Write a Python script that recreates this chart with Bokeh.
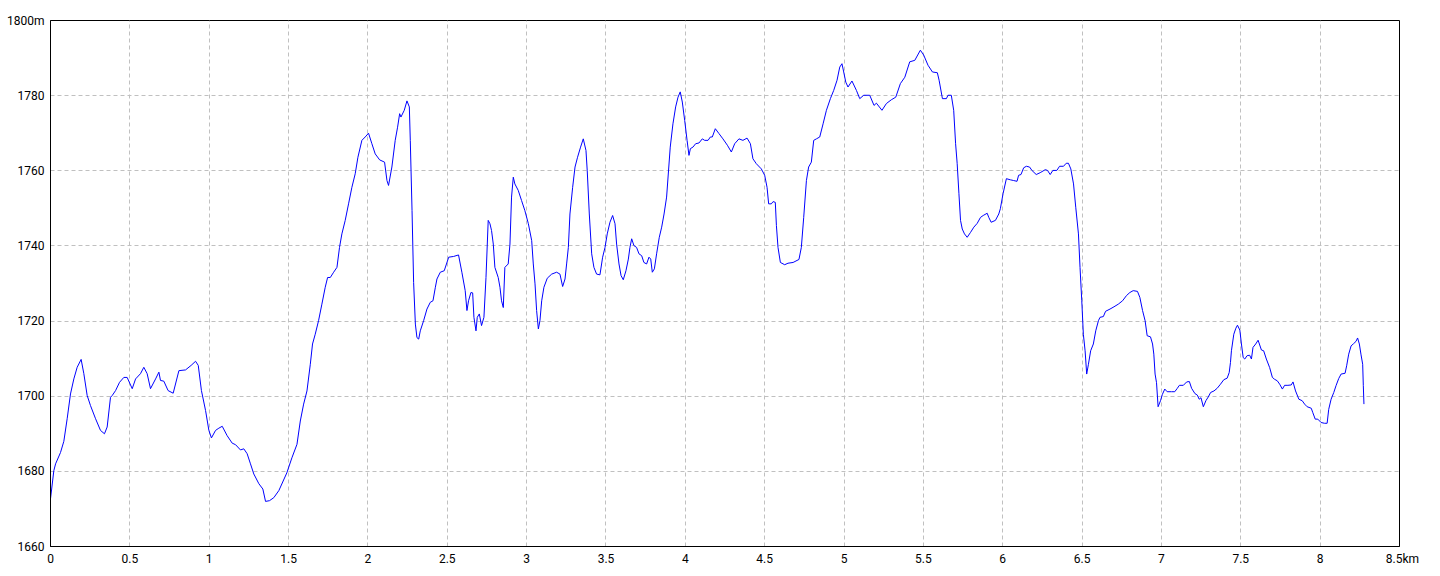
from bokeh.plotting import figure
from bokeh.models import FixedTicker, Range1d
from bokeh.embed import file_html
from bokeh.resources import INLINE

# distance along the route (km) and elevation (m)
dist_km = [
    0.000, 0.021, 0.032, 0.063, 0.084, 0.105, 0.126, 0.147, 0.168, 0.193,
    0.210, 0.231, 0.252, 0.284, 0.315, 0.340, 0.357, 0.378, 0.389, 0.410,
    0.435, 0.462, 0.483, 0.515, 0.536, 0.567, 0.588, 0.609, 0.630, 0.662,
    0.683, 0.693, 0.714, 0.741, 0.773, 0.809, 0.851, 0.886, 0.914, 0.931,
    0.951, 0.977, 0.998, 1.014, 1.040, 1.061, 1.082, 1.113, 1.145, 1.166,
    1.197, 1.218, 1.239, 1.260, 1.281, 1.313, 1.338, 1.355, 1.380, 1.407,
    1.439, 1.489, 1.521, 1.553, 1.574, 1.595, 1.616, 1.637, 1.651, 1.668,
    1.689, 1.710, 1.731, 1.746, 1.763, 1.784, 1.805, 1.821, 1.836, 1.857,
    1.878, 1.899, 1.920, 1.937, 1.962, 1.983, 2.004, 2.025, 2.046, 2.074,
    2.105, 2.120, 2.130, 2.151, 2.172, 2.187, 2.200, 2.208, 2.229, 2.246,
    2.261, 2.267, 2.278, 2.288, 2.299, 2.309, 2.320, 2.330, 2.351, 2.372,
    2.393, 2.410, 2.425, 2.435, 2.456, 2.481, 2.509, 2.540, 2.571, 2.592,
    2.613, 2.624, 2.634, 2.649, 2.660, 2.668, 2.681, 2.689, 2.702, 2.716,
    2.731, 2.744, 2.758, 2.769, 2.779, 2.790, 2.800, 2.821, 2.832, 2.842,
    2.853, 2.863, 2.884, 2.895, 2.905, 2.916, 2.926, 2.947, 2.968, 2.989,
    3.011, 3.032, 3.042, 3.053, 3.063, 3.074, 3.084, 3.095, 3.109, 3.130,
    3.158, 3.189, 3.210, 3.227, 3.242, 3.252, 3.263, 3.273, 3.290, 3.305,
    3.321, 3.340, 3.357, 3.374, 3.382, 3.395, 3.410, 3.424, 3.441, 3.462,
    3.479, 3.494, 3.508, 3.525, 3.542, 3.557, 3.567, 3.582, 3.595, 3.609,
    3.626, 3.641, 3.651, 3.662, 3.676, 3.693, 3.708, 3.725, 3.739, 3.756,
    3.771, 3.782, 3.792, 3.805, 3.819, 3.836, 3.851, 3.866, 3.882, 3.905,
    3.922, 3.939, 3.954, 3.968, 3.981, 3.996, 4.011, 4.023, 4.032, 4.048,
    4.065, 4.086, 4.107, 4.122, 4.143, 4.158, 4.170, 4.189, 4.212, 4.237,
    4.265, 4.290, 4.311, 4.338, 4.363, 4.389, 4.410, 4.426, 4.447, 4.479,
    4.500, 4.515, 4.525, 4.542, 4.553, 4.567, 4.574, 4.584, 4.599, 4.626,
    4.647, 4.679, 4.716, 4.731, 4.746, 4.763, 4.777, 4.794, 4.809, 4.826,
    4.847, 4.868, 4.889, 4.914, 4.935, 4.956, 4.973, 4.987, 4.998, 5.011,
    5.025, 5.050, 5.078, 5.099, 5.124, 5.162, 5.189, 5.204, 5.239, 5.267,
    5.298, 5.326, 5.355, 5.383, 5.414, 5.446, 5.481, 5.502, 5.529, 5.557,
    5.588, 5.599, 5.620, 5.645, 5.655, 5.676, 5.691, 5.703, 5.713, 5.724,
    5.734, 5.745, 5.759, 5.776, 5.797, 5.818, 5.839, 5.860, 5.877, 5.902,
    5.912, 5.927, 5.954, 5.975, 5.985, 6.002, 6.023, 6.048, 6.069, 6.090,
    6.100, 6.115, 6.132, 6.149, 6.169, 6.184, 6.211, 6.236, 6.268, 6.282,
    6.299, 6.316, 6.341, 6.358, 6.383, 6.400, 6.414, 6.429, 6.446, 6.460,
    6.477, 6.487, 6.498, 6.508, 6.519, 6.529, 6.540, 6.554, 6.571, 6.586,
    6.603, 6.613, 6.634, 6.648, 6.676, 6.701, 6.728, 6.755, 6.780, 6.801,
    6.822, 6.849, 6.864, 6.881, 6.897, 6.910, 6.931, 6.944, 6.952, 6.960,
    6.969, 6.979, 6.994, 7.006, 7.021, 7.036, 7.063, 7.084, 7.100, 7.113,
    7.138, 7.159, 7.176, 7.190, 7.211, 7.226, 7.238, 7.249, 7.264, 7.280,
    7.295, 7.310, 7.331, 7.351, 7.372, 7.393, 7.414, 7.427, 7.435, 7.441,
    7.456, 7.469, 7.479, 7.494, 7.504, 7.515, 7.525, 7.540, 7.556, 7.567,
    7.577, 7.594, 7.609, 7.630, 7.644, 7.661, 7.682, 7.699, 7.713, 7.730,
    7.745, 7.762, 7.776, 7.797, 7.818, 7.829, 7.845, 7.866, 7.887, 7.902,
    7.918, 7.944, 7.954, 7.969, 7.985, 8.006, 8.027, 8.044, 8.054, 8.069,
    8.086, 8.100, 8.117, 8.132, 8.157, 8.167, 8.180, 8.195, 8.211, 8.226,
    8.236, 8.247, 8.257, 8.268, 8.272, 8.276,
]

elev_m = [
    1672.7, 1680.2, 1682.0, 1685.0, 1688.0, 1694.0, 1700.6, 1704.6, 1707.7, 1709.8,
    1706.0, 1700.2, 1697.5, 1694.0, 1690.9, 1690.0, 1691.8, 1699.7, 1700.2, 1701.5,
    1703.7, 1705.0, 1705.0, 1702.0, 1704.6, 1706.0, 1707.7, 1706.0, 1702.0, 1704.6,
    1706.4, 1704.2, 1704.0, 1701.5, 1700.8, 1706.8, 1707.0, 1708.2, 1709.3, 1708.2,
    1701.5, 1696.2, 1690.9, 1688.9, 1690.9, 1691.5, 1692.0, 1689.5, 1687.5, 1687.1,
    1685.7, 1686.0, 1684.7, 1682.0, 1679.3, 1676.7, 1675.3, 1672.0, 1672.2, 1673.0,
    1674.9, 1679.6, 1683.6, 1687.2, 1693.4, 1697.9, 1701.4, 1708.5, 1713.9, 1716.5,
    1720.1, 1724.5, 1729.0, 1731.6, 1731.6, 1733.0, 1734.3, 1739.6, 1743.2, 1746.8,
    1751.2, 1755.6, 1759.2, 1763.6, 1768.1, 1769.0, 1770.0, 1767.2, 1764.5, 1762.9,
    1762.3, 1757.4, 1756.1, 1761.0, 1768.1, 1771.6, 1775.2, 1774.3, 1776.1, 1778.6,
    1777.0, 1768.1, 1749.4, 1730.3, 1719.2, 1715.6, 1715.2, 1717.4, 1720.1, 1723.2,
    1725.0, 1725.4, 1729.0, 1731.2, 1733.0, 1733.4, 1737.0, 1737.2, 1737.6, 1733.0,
    1728.1, 1722.8, 1725.4, 1727.6, 1727.5, 1721.0, 1717.4, 1721.0, 1721.9, 1718.8,
    1721.0, 1731.6, 1746.8, 1745.9, 1744.1, 1740.5, 1734.3, 1731.6, 1729.0, 1725.4,
    1723.6, 1734.3, 1735.2, 1740.5, 1753.0, 1758.3, 1756.5, 1754.8, 1752.1, 1749.4,
    1745.9, 1741.4, 1735.2, 1729.9, 1722.8, 1717.9, 1720.1, 1725.4, 1729.0, 1731.4,
    1732.5, 1733.0, 1732.5, 1729.2, 1731.2, 1735.2, 1739.6, 1748.5, 1755.6, 1761.0,
    1763.6, 1766.3, 1768.5, 1765.4, 1760.0, 1748.5, 1737.9, 1734.3, 1732.5, 1732.3,
    1737.0, 1739.6, 1743.2, 1746.3, 1748.1, 1745.9, 1740.5, 1735.2, 1732.1, 1731.0,
    1733.4, 1736.5, 1739.6, 1741.9, 1740.1, 1739.6, 1737.9, 1737.4, 1735.6, 1735.2,
    1737.0, 1736.5, 1733.0, 1733.9, 1737.9, 1742.3, 1745.0, 1748.5, 1753.0, 1766.3,
    1772.5, 1777.0, 1779.6, 1781.0, 1778.3, 1773.4, 1768.1, 1764.1, 1765.9, 1766.3,
    1767.2, 1767.4, 1768.5, 1768.1, 1768.1, 1769.0, 1769.0, 1771.2, 1769.9, 1768.5,
    1766.8, 1765.0, 1767.2, 1768.5, 1768.1, 1768.7, 1767.2, 1763.2, 1761.9, 1760.5,
    1758.8, 1755.6, 1751.2, 1751.2, 1751.8, 1751.6, 1745.4, 1739.6, 1735.6, 1735.0,
    1735.4, 1735.6, 1736.4, 1739.6, 1747.6, 1757.4, 1761.0, 1762.3, 1768.1, 1768.5,
    1769.0, 1772.5, 1776.1, 1779.2, 1781.4, 1784.1, 1787.6, 1788.5, 1786.3, 1783.6,
    1782.3, 1783.9, 1781.4, 1779.2, 1780.1, 1780.1, 1777.4, 1778.0, 1776.1, 1777.9,
    1778.9, 1779.6, 1783.2, 1784.9, 1789.0, 1789.4, 1792.1, 1790.8, 1788.1, 1786.3,
    1786.1, 1784.1, 1779.2, 1779.2, 1780.1, 1780.1, 1776.1, 1767.2, 1761.9, 1753.9,
    1746.8, 1744.5, 1743.2, 1742.3, 1743.6, 1745.0, 1746.0, 1747.6, 1748.1, 1748.7,
    1747.6, 1746.3, 1746.8, 1748.5, 1749.9, 1753.9, 1757.9, 1757.6, 1757.4, 1757.2,
    1758.8, 1759.0, 1760.8, 1761.2, 1761.0, 1760.1, 1759.0, 1759.5, 1760.3, 1760.1,
    1759.0, 1760.1, 1760.1, 1761.2, 1761.2, 1762.0, 1762.0, 1760.5, 1756.5, 1750.3,
    1743.2, 1734.3, 1725.4, 1716.5, 1712.1, 1705.9, 1708.5, 1712.1, 1713.9, 1717.4,
    1720.1, 1721.0, 1721.2, 1722.6, 1723.2, 1723.8, 1724.5, 1725.4, 1726.8, 1727.6,
    1728.1, 1727.9, 1726.3, 1722.8, 1720.1, 1716.1, 1715.8, 1713.9, 1711.2, 1705.9,
    1703.6, 1697.2, 1698.8, 1700.5, 1701.9, 1701.2, 1701.2, 1701.2, 1702.1, 1702.9,
    1702.9, 1703.8, 1703.9, 1702.1, 1700.7, 1700.3, 1699.2, 1699.6, 1697.2, 1698.8,
    1699.8, 1701.0, 1701.4, 1702.1, 1703.2, 1704.4, 1704.8, 1706.3, 1709.0, 1712.1,
    1716.5, 1718.1, 1718.9, 1717.6, 1713.9, 1710.3, 1709.9, 1710.8, 1710.9, 1709.9,
    1713.0, 1713.9, 1714.9, 1712.3, 1712.1, 1709.9, 1707.6, 1705.0, 1704.5, 1704.1,
    1703.2, 1701.9, 1702.9, 1702.9, 1703.0, 1703.8, 1701.4, 1699.2, 1698.8, 1697.9,
    1697.2, 1696.8, 1695.6, 1693.9, 1693.9, 1693.0, 1692.8, 1692.8, 1696.5, 1699.2,
    1701.0, 1702.8, 1704.7, 1705.9, 1706.1, 1708.1, 1711.2, 1713.4, 1714.0, 1714.6,
    1715.5, 1713.9, 1711.2, 1708.5, 1702.8, 1697.9,
]

x_ticks = [0, 0.5, 1, 1.5, 2, 2.5, 3, 3.5, 4, 4.5, 5, 5.5, 6, 6.5, 7, 7.5, 8, 8.5]
y_ticks = [1660, 1680, 1700, 1720, 1740, 1760, 1780, 1800]
x_labels = {8.5: "\u00a0\u00a08.5km"}
y_labels = {1800: "1800m"}

FONT = "Roboto"

p = figure(width=1432, height=568, output_backend="svg", toolbar_location=None,
           x_range=Range1d(0, 8.5), y_range=Range1d(1660, 1800),
           min_border_left=50, min_border_right=33, min_border_top=20, min_border_bottom=22)

p.background_fill_color = "white"
p.border_fill_color = "white"
p.outline_line_color = "black"
p.outline_line_width = 1

for ax in (p.xaxis[0], p.yaxis[0]):
    ax.axis_line_color = "black"
    ax.major_tick_line_color = None
    ax.minor_tick_line_color = None
    ax.major_tick_out = 0
    ax.major_tick_in = 0
    ax.major_label_text_font = FONT
    ax.major_label_text_font_size = "12px"
    ax.major_label_text_color = "black"

p.xaxis[0].ticker = FixedTicker(ticks=x_ticks)
p.yaxis[0].ticker = FixedTicker(ticks=y_ticks)
p.xaxis[0].major_label_overrides = x_labels
p.yaxis[0].major_label_overrides = y_labels
p.xaxis[0].major_label_standoff = 5
p.yaxis[0].major_label_standoff = 6

p.xgrid.ticker = FixedTicker(ticks=x_ticks)
p.ygrid.ticker = FixedTicker(ticks=y_ticks)
for g in (p.xgrid[0], p.ygrid[0]):
    g.grid_line_color = "#c0c0c0"
    g.grid_line_dash = "4 3"
    g.grid_line_width = 1

p.line(dist_km, elev_m, line_color="#0000ff", line_width=1)

open("out.html", "w").write(file_html(p, INLINE))
